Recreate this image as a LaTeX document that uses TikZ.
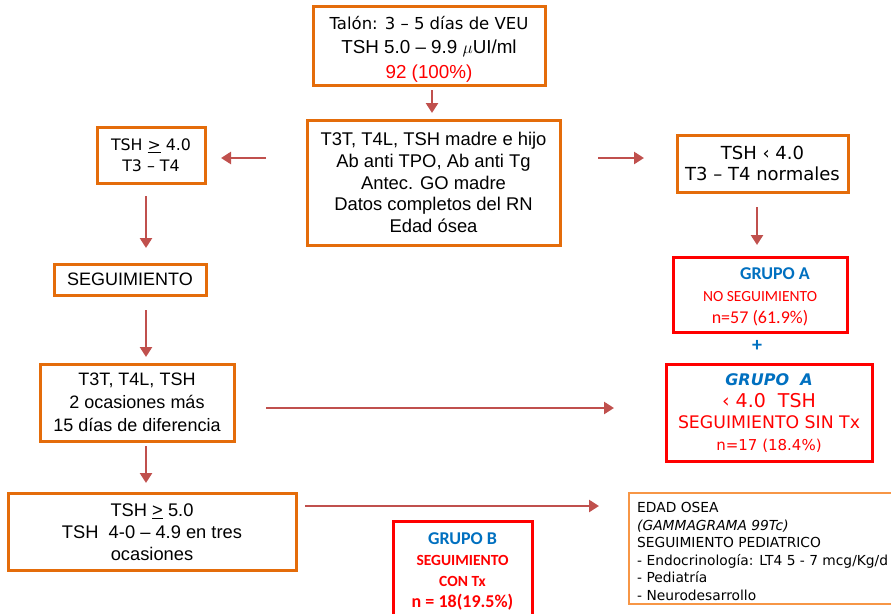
\documentclass[tikz,border=0pt]{standalone}
\usepackage{fontspec}
\setmainfont{Liberation Sans}
\newfontfamily\comic{DejaVu Sans}
\newfontfamily\calib{Carlito}
\usetikzlibrary{arrows.meta}
\definecolor{boxorange}{RGB}{228,108,10}
\definecolor{lightorange}{RGB}{247,150,70}
\definecolor{arrowred}{RGB}{192,80,77}
\definecolor{grpblue}{RGB}{0,112,192}
\definecolor{grpred}{RGB}{255,0,0}
\newcommand{\fs}[2]{\fontsize{#1}{#2}\selectfont}
\tikzset{
  obox/.style={draw=boxorange, line width=3pt, fill=white, inner sep=0pt, align=center, text=black},
  rbox/.style={draw=grpred, line width=3pt, fill=white, inner sep=0pt, align=center},
  flow/.style={draw=arrowred, line width=2.6pt, -{Triangle[length=10pt,width=12pt]}},
}
\begin{document}
\begin{tikzpicture}[x=1pt,y=-1pt]
\useasboundingbox (0,0) rectangle (891,613);
\begin{scope}
\clip (0,0) rectangle (891,613);

% top box
\node[obox, minimum width=232pt, minimum height=79pt, font=\fs{18.8}{24.5}] (top) at (429,45.5)
  {\rule{0pt}{20pt}{\comic\fontsize{16.5}{24.5}\selectfont Talón: 3 – 5 días de VEU}\\
   TSH 5.0 – 9.9 $\mu$UI/ml\\
   \textcolor{grpred}{92 (100\%)}};

% middle box
\node[obox, minimum width=253pt, minimum height=125pt, font=\fs{18.4}{21.8}] (mid) at (433.5,182.5)
  {T3T, T4L, TSH madre e hijo\\Ab anti TPO, Ab anti Tg\\Antec. GO madre\\Datos completos del RN\\Edad ósea};

% left top box
\node[obox, minimum width=108pt, minimum height=56pt, font=\comic\fs{15.8}{20.5}] (left1) at (151,155)
  {TSH \underline{>} 4.0\\T3 – T4};

% right top box
\node[obox, minimum width=171pt, minimum height=57pt, font=\comic\fs{18}{21}] (right1) at (762.5,163.5)
  {TSH ‹ 4.0\\T3 – T4 normales};

% grupo A 1
\node[rbox, minimum width=174pt, minimum height=75pt, font=\calib\fs{18}{22}] (gA1) at (760,294.5)
  {\rule{0pt}{16pt}\hspace*{30pt}{\bfseries\color{grpblue}GRUPO A}\\
   {\fontsize{15.5}{22}\selectfont\color{grpred}NO SEGUIMIENTO}\\
   \textcolor{grpred}{n=57 (61.9\%)}};

\node[text=grpblue, font=\calib\bfseries\fs{20}{20}] (plus) at (757,346) {+};

% grupo A 2
\node[rbox, minimum width=206pt, minimum height=97pt, font=\comic\fs{15}{21.5}] (gA2) at (769,413)
  {{\fontsize{16}{21.5}\selectfont\bfseries\itshape\color{grpblue}GRUPO\ \ A}\\
   {\fontsize{19}{21.5}\selectfont\color{grpred}‹ 4.0\ \ TSH}\\
   {\fontsize{17.3}{21.5}\selectfont\color{grpred}SEGUIMIENTO SIN Tx}\\
   \textcolor{grpred}{n=17 (18.4\%)}};

% seguimiento
\node[obox, minimum width=152pt, minimum height=31pt, font=\fs{18}{20}] (seg) at (130,279.5)
  {SEGUIMIENTO};

% T3T box
\node[obox, minimum width=194pt, minimum height=77pt, font=\fs{18}{23}] (t3t) at (137,402.5)
  {T3T, T4L, TSH\\2 ocasiones más\\15 días de diferencia};

% TSH >= 5 box
\node[obox, minimum width=288pt, minimum height=77pt, font=\fs{18.3}{22}] (tsh5) at (152,532)
  {TSH \underline{>} 5.0\\TSH\ \ 4-0 – 4.9 en tres\\ocasiones};

% grupo B
\node[rbox, minimum width=139pt, minimum height=100pt, anchor=north, font=\calib\bfseries\fs{15.5}{21}] (gB) at (462.5,520)
  {{\fontsize{18}{21}\selectfont\color{grpblue}GRUPO B}\\
   \textcolor{grpred}{SEGUIMIENTO}\\
   \textcolor{grpred}{CON Tx}\\
   {\fontsize{18}{20}\selectfont\color{grpred}n = 18(19.5\%)}};

% edad osea box
\node[draw=lightorange, line width=2pt, fill=white, minimum width=280pt, minimum height=111pt, anchor=north west] (edad) at (628,492) {};
\node[anchor=north west, align=left, inner sep=0pt, font=\comic\fs{13.8}{17.6}] (edadtxt) at (637,502)
  {EDAD OSEA\\{\itshape (GAMMAGRAMA 99Tc)}\\SEGUIMIENTO PEDIATRICO\\- Endocrinología: LT4 5 - 7 mcg/Kg/d\\- Pediatría\\- Neurodesarrollo};

% connectors
\coordinate (a1s) at (432,90);  \coordinate (a1e) at (432,113);
\draw[flow] (a1s) -- (a1e);
\coordinate (a2s) at (266,158); \coordinate (a2e) at (221,158);
\draw[flow] (a2s) -- (a2e);
\coordinate (a3s) at (598,158); \coordinate (a3e) at (644,158);
\draw[flow] (a3s) -- (a3e);
\coordinate (a4s) at (757,207); \coordinate (a4e) at (757,245);
\draw[flow] (a4s) -- (a4e);
\coordinate (a5s) at (146,196); \coordinate (a5e) at (146,248);
\draw[flow] (a5s) -- (a5e);
\coordinate (a6s) at (146,310); \coordinate (a6e) at (146,357);
\draw[flow] (a6s) -- (a6e);
\coordinate (a7s) at (266,408); \coordinate (a7e) at (614,408);
\draw[flow] (a7s) -- (a7e);
\coordinate (a8s) at (146,446); \coordinate (a8e) at (146,483);
\draw[flow] (a8s) -- (a8e);
\coordinate (a9s) at (305,506); \coordinate (a9e) at (599,506);
\draw[flow] (a9s) -- (a9e);
\end{scope}
\end{tikzpicture}
\end{document}
